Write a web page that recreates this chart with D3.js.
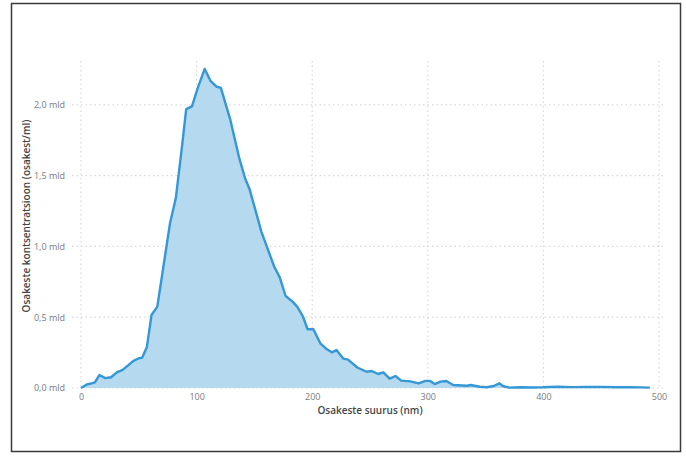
<!DOCTYPE html>
<html><head><meta charset="utf-8">
<script src="https://cdn.jsdelivr.net/npm/d3@7/dist/d3.min.js"></script>
<style>html,body{margin:0;padding:0;background:#fff;}svg{display:block;}</style>
</head><body>
<svg id="chart" width="686" height="457"></svg>
<script>
// Particle size (nm)
const sizes = [0,5,10,12,16,21,26,31,36,41,45,50,53,57,61,66,77,82,87,91,96,101,107,112,117,121,129,137,142,146,156,167,172,177,183,187,192,196,201,207,212,217,221,227,231,239,247,251.5,257,261.5,267,272,277,285,292,298,302,306,311,316,322,334,337,345,351,357,362,365,370,380,390,400,412,425,437,450,462,475,492];
// Concentration (billions of particles/ml)
const conc = [0,0.025,0.035,0.04,0.092,0.07,0.076,0.11,0.128,0.162,0.19,0.21,0.215,0.29,0.516,0.575,1.164,1.34,1.68,1.97,1.99,2.12,2.254,2.17,2.13,2.12,1.90,1.62,1.48,1.40,1.105,0.86,0.78,0.65,0.61,0.575,0.505,0.415,0.415,0.316,0.278,0.252,0.268,0.207,0.2,0.145,0.115,0.12,0.099,0.111,0.066,0.085,0.052,0.047,0.033,0.05,0.05,0.028,0.045,0.049,0.021,0.016,0.021,0.009,0.005,0.014,0.033,0.014,0.003,0.005,0.004,0.005,0.009,0.006,0.007,0.008,0.005,0.006,0.003];
const xTicks = [0,100,200,300,400,500];
const yTicks = [0,0.5,1.0,1.5,2.0];
const xTitle = "Osakeste suurus (nm)";
const yTitle = "Osakeste kontsentratsioon (osakest/ml)";

const data = sizes.map((s,i)=>({x:s,y:conc[i]}));
const svg = d3.select("#chart");
const x = d3.scaleLinear().domain([0,500]).range([81,659]);
const y = d3.scaleLinear().domain([0,2.31]).range([388,61]);
const font = "'Open Sans', 'DejaVu Sans', sans-serif";

// frame
svg.append("rect").attr("x",11.5).attr("y",3.5).attr("width",669).attr("height",448)
  .attr("fill","none").attr("stroke","#3a3a3a").attr("stroke-width",1.5);

// gridlines
svg.append("g").selectAll("line").data(yTicks).join("line")
  .attr("x1",72).attr("x2",663).attr("y1",d=>y(d)).attr("y2",d=>y(d))
  .attr("stroke","#d9d9d9").attr("stroke-width",1.2).attr("stroke-dasharray","1.5,3");
svg.append("g").selectAll("line").data(xTicks).join("line")
  .attr("x1",d=>x(d)).attr("x2",d=>x(d)).attr("y1",61).attr("y2",388)
  .attr("stroke","#d9d9d9").attr("stroke-width",1.2).attr("stroke-dasharray","1.5,3");

// area + line
const area = d3.area().x(d=>x(d.x)).y0(y(0)).y1(d=>y(d.y));
const line = d3.line().x(d=>x(d.x)).y(d=>y(d.y));
svg.append("path").datum(data).attr("d",area).attr("fill","#b5d9ef");
svg.append("path").datum(data).attr("d",line).attr("fill","none")
  .attr("stroke","#3597d6").attr("stroke-width",2.4).attr("stroke-linejoin","round");

// axes
const fmtY = d => d3.format(".1f")(d).replace(".",",") + " mld";
const xAxis = d3.axisBottom(x).tickValues(xTicks).tickSize(0).tickPadding(6);
const gx = svg.append("g").attr("transform","translate(0,388)").call(xAxis);
gx.select(".domain").remove();
gx.selectAll("text").attr("font-family",font).attr("font-size",9).attr("fill","#7a7a7a");

const yAxis = d3.axisLeft(y).tickValues(yTicks).tickFormat(fmtY).tickSize(0).tickPadding(16);
const gy = svg.append("g").attr("transform","translate(81,0)").call(yAxis);
gy.select(".domain").remove();
gy.selectAll("text").attr("font-family",font).attr("font-size",9).attr("fill","#7a7a7a");

svg.append("text").attr("x",370).attr("y",414).attr("text-anchor","middle")
  .attr("font-family",font).attr("font-size",10).attr("font-weight",600).attr("fill","#454545").text(xTitle);
svg.append("text").attr("transform","translate(30,216) rotate(-90)").attr("text-anchor","middle")
  .attr("font-family",font).attr("font-size",10).attr("font-weight",600).attr("fill","#454545").text(yTitle);
</script>
</body></html>
